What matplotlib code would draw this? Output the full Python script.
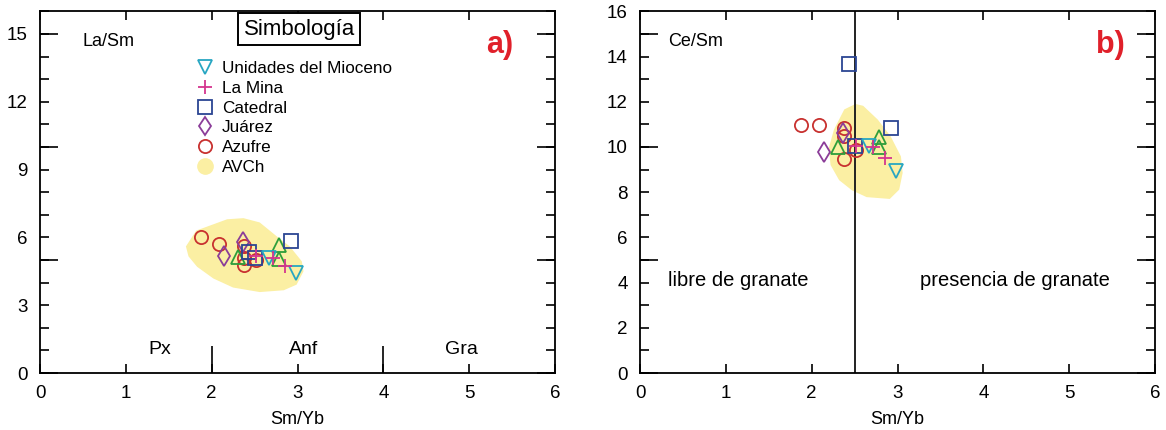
import matplotlib.pyplot as plt
from matplotlib.lines import Line2D
from matplotlib.ticker import FixedLocator, FuncFormatter, NullFormatter

plt.rcParams['font.family'] = ['Liberation Sans', 'DejaVu Sans']

# --- data ---
# Sm/Yb, La/Sm (panel a), Ce/Sm (panel b) for each group
mioceno_smyb = [2.67, 2.98]
mioceno_lasm = [5.10, 4.42]
mioceno_cesm = [10.06, 8.95]

mina_smyb = [2.86, 2.52, 2.72]
mina_lasm = [4.75, 5.16, 5.10]
mina_cesm = [9.51, 10.06, 10.00]

catedral_smyb = [2.93, 2.44, 2.50]
catedral_lasm = [5.82, 5.34, 5.10]
catedral_cesm = [10.84, 13.67, 10.06]

juarez_smyb = [2.14, 2.36]
juarez_lasm = [5.16, 5.80]
juarez_cesm = [9.76, 10.60]

azufre_smyb = [1.87, 2.08, 2.38, 2.38, 2.38, 2.52]
azufre_lasm = [6.00, 5.72, 5.60, 5.10, 4.79, 5.01]
azufre_cesm = [10.99, 10.96, 10.84, 10.47, 9.47, 9.88]

# green triangles (no legend entry)
otros_smyb = [2.31, 2.79, 2.78]
otros_lasm = [5.15, 5.68, 5.06]
otros_cesm = [10.00, 10.44, 10.00]

# AVCh field outlines
avch_a_x = [1.70, 1.82, 2.18, 2.37, 2.56, 2.76, 2.91, 3.05, 3.07, 2.99, 2.84,
            2.56, 2.25, 2.02, 1.83, 1.73]
avch_a_y = [5.60, 6.30, 6.80, 6.85, 6.66, 6.04, 5.60, 4.94, 4.50, 3.91, 3.66,
            3.58, 3.78, 4.18, 4.70, 5.16]
avch_b_x = [2.51, 2.38, 2.26, 2.20, 2.22, 2.32, 2.47, 2.64, 2.91, 3.02, 3.06,
            3.04, 2.92, 2.77, 2.60]
avch_b_y = [11.90, 11.66, 10.77, 9.96, 9.20, 8.53, 8.08, 7.78, 7.70, 8.11, 8.85,
            9.58, 10.47, 11.21, 11.82]

fase_limites = [2, 4]          # Px / Anf / Gra boundaries
granate_limite = 2.5           # garnet boundary in Sm/Yb

c_cyan = '#27a6c2'
c_mag = '#d4358f'
c_navy = '#2b4593'
c_purp = '#8b3d99'
c_red = '#c8312f'
c_green = '#2e9e3b'
c_yel = '#fbefa3'

fig = plt.figure(figsize=(11.66, 4.30), dpi=100)
ax1 = fig.add_axes([40 / 1166, 57 / 430, 515 / 1166, 361.7 / 430])
ax2 = fig.add_axes([640 / 1166, 57 / 430, 515 / 1166, 361.7 / 430])


def draw_points(ax, ycol):
    ms = 9.5
    kw = dict(linestyle='none', markerfacecolor='none', markeredgewidth=1.3, zorder=3)
    ax.plot(azufre_smyb, ycol['azufre'], marker='o', ms=ms, markeredgecolor=c_red, **kw)
    ax.plot(juarez_smyb, ycol['juarez'], marker='d', ms=ms + 1, markeredgecolor=c_purp, **kw)
    ax.plot(otros_smyb, ycol['otros'], marker='^', ms=ms + 0.5, markeredgecolor=c_green, **kw)
    ax.plot(catedral_smyb, ycol['catedral'], marker='s', ms=ms, markeredgecolor=c_navy, **kw)
    ax.plot(mioceno_smyb, ycol['mioceno'], marker='v', ms=ms, markeredgecolor=c_cyan, **kw)
    ax.plot(mina_smyb, ycol['mina'], marker='+', ms=ms, markeredgecolor=c_mag, **kw)


def style_axes(ax, label_step):
    ax.set_xlim(0, 6)
    ax.set_ylim(0, 16)
    for s in ax.spines.values():
        s.set_linewidth(1.3)
    ax.set_xticks(range(0, 7))
    ax.tick_params(axis='x', which='major', direction='in', top=True, bottom=True,
                   length=6.5, width=1.2, labelsize=13.5, pad=9)
    ax.yaxis.remove_overlapping_locs = False
    ax.yaxis.set_major_locator(FixedLocator([0, 5, 10, 15]))
    ax.yaxis.set_major_formatter(NullFormatter())
    ax.yaxis.set_minor_locator(FixedLocator(list(range(0, 17))))
    ax.yaxis.set_minor_formatter(FuncFormatter(
        lambda v, p: f'{int(v)}' if int(v) % label_step == 0 else ''))
    ax.tick_params(axis='y', which='major', direction='in', left=True, right=True,
                   length=13, width=1.2)
    ax.tick_params(axis='y', which='minor', direction='in', left=True, right=True,
                   length=6.5, width=1.2, labelsize=13.5, pad=9)
    ax.set_xlabel('Sm/Yb', fontsize=13, labelpad=6)


# ---------- panel a ----------
ax1.fill(avch_a_x, avch_a_y, color=c_yel, lw=0, zorder=1)
draw_points(ax1, dict(azufre=azufre_lasm, juarez=juarez_lasm, otros=otros_lasm,
                      catedral=catedral_lasm, mioceno=mioceno_lasm, mina=mina_lasm))
style_axes(ax1, 3)
ax1.vlines(fase_limites, 0, 1.2, color='k', lw=1.2)
ax1.text(0.49, 14.66, 'La/Sm', fontsize=13, va='center', ha='left')
ax1.text(5.35, 14.5, 'a)', fontsize=22, fontweight='bold', color='#e0202a',
         va='center', ha='center')
ax1.text(1.40, 1.03, 'Px', fontsize=14, ha='center', va='center')
ax1.text(3.07, 1.03, 'Anf', fontsize=14, ha='center', va='center')
ax1.text(4.91, 1.03, 'Gra', fontsize=14, ha='center', va='center')
ax1.text(3.02, 15.2, 'Simbología', fontsize=16, ha='center', va='center',
         bbox=dict(boxstyle='square,pad=0.25', fc='white', ec='k', lw=1.4), zorder=5)

mk = dict(linestyle='none', markerfacecolor='none', markeredgewidth=1.3, ms=9.5)
handles = [
    Line2D([], [], marker='v', markeredgecolor=c_cyan, **mk),
    Line2D([], [], marker='+', markeredgecolor=c_mag, **mk),
    Line2D([], [], marker='s', markeredgecolor=c_navy, **mk),
    Line2D([], [], marker='d', markeredgecolor=c_purp, **mk),
    Line2D([], [], marker='o', markeredgecolor=c_red, **mk),
    Line2D([], [], marker='o', linestyle='none', markerfacecolor=c_yel,
           markeredgecolor=c_yel, ms=11),
]
labels = ['Unidades del Mioceno', 'La Mina', 'Catedral', 'Juárez', 'Azufre', 'AVCh']
ax1.legend(handles, labels, loc='upper left', bbox_to_anchor=(1.82, 13.8),
           bbox_transform=ax1.transData, frameon=False, fontsize=12.3,
           handlelength=1.0, handletextpad=0.5, labelspacing=0.28, borderpad=0,
           borderaxespad=0)

# ---------- panel b ----------
ax2.fill(avch_b_x, avch_b_y, color=c_yel, lw=0, zorder=1)
ax2.axvline(granate_limite, color='#222222', lw=1.4, zorder=2)
draw_points(ax2, dict(azufre=azufre_cesm, juarez=juarez_cesm, otros=otros_cesm,
                      catedral=catedral_cesm, mioceno=mioceno_cesm, mina=mina_cesm))
style_axes(ax2, 2)
ax2.text(0.33, 14.66, 'Ce/Sm', fontsize=13, va='center', ha='left')
ax2.text(5.48, 14.5, 'b)', fontsize=22, fontweight='bold', color='#e0202a',
         va='center', ha='center')
ax2.text(0.33, 4.08, 'libre de granate', fontsize=14.5, va='center', ha='left')
ax2.text(3.26, 4.08, 'presencia de granate', fontsize=14.5, va='center', ha='left')

fig.savefig('out.png', dpi=100)
